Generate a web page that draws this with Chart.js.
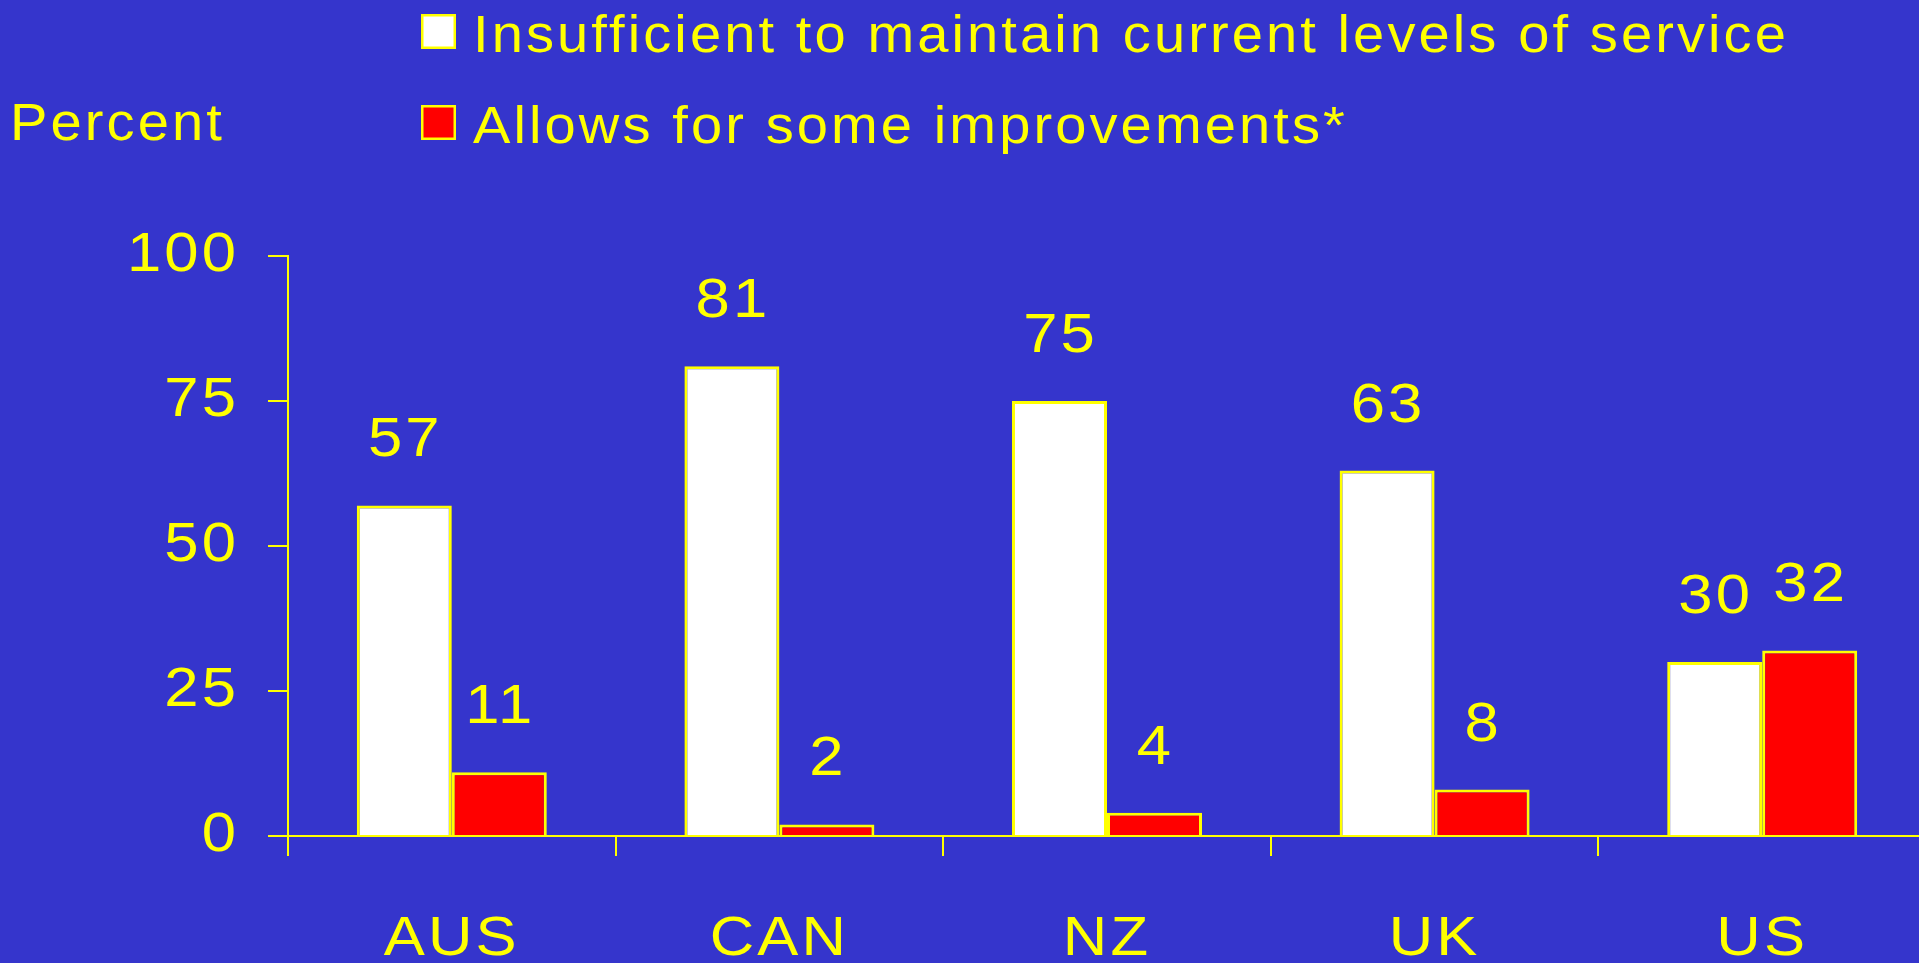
<!DOCTYPE html>
<html>
<head>
<meta charset="utf-8">
<script src="https://cdn.jsdelivr.net/npm/chart.js@4"></script>
<style>
  html, body { margin: 0; padding: 0; background: #3535CC; overflow: hidden; }
  canvas { display: block; }
</style>
</head>
<body>
<canvas id="myChart" width="1926" height="963"></canvas>
<script>
const categories = ['AUS', 'CAN', 'NZ', 'UK', 'US']
const insufficient = [57, 81, 75, 63, 30]
const improvements = [11, 2, 4, 8, 32]
const seriesNames = ['Insufficient to maintain current levels of service', 'Allows for some improvements*']
const yAxisTitle = 'Percent'
const yTicks = [0, 25, 50, 75, 100]

const yellow = '#FFFF00'
const fontFamily = '"Liberation Sans", Arial, Helvetica, sans-serif'
const stretch = 1.1   // the slide's lettering is wide, so widen every text a bit
const tracking = '2.8px'

// widen all text drawn on the canvas (tick labels included) around its anchor point
const wideText = {
  id: 'wideText',
  beforeInit(chart) {
    const c = chart.ctx
    const fill = c.fillText
    c.fillText = function (text, x, y, maxWidth) {
      this.save()
      this.letterSpacing = tracking
      this.translate(x, y)
      this.scale(stretch, 1)
      fill.call(this, text, 0, 0)
      this.restore()
    }
  }
}

// legend + "Percent" at the top left
const topText = {
  id: 'topText',
  afterDraw(chart) {
    const c = chart.ctx
    c.save()
    c.fillStyle = yellow
    c.textBaseline = 'alphabetic'
    c.textAlign = 'left'
    c.font = `51px ${fontFamily}`
    c.fillText(yAxisTitle, 10, 140)

    chart.data.datasets.forEach((ds, i) => {
      const top = 14 + i * 91
      c.fillStyle = ds.backgroundColor
      c.fillRect(421, top, 35, 35)
      c.strokeStyle = yellow
      c.lineWidth = 2.5
      c.strokeRect(422.25, top + 1.25, 32.5, 32.5)
      c.fillStyle = yellow
      c.fillText(ds.label, 473, top + 38)
    })
    c.restore()
  }
}

// value above each bar
const valueLabels = {
  id: 'valueLabels',
  afterDatasetsDraw(chart) {
    const c = chart.ctx
    c.save()
    c.fillStyle = yellow
    c.font = `56px ${fontFamily}`
    c.textAlign = 'center'
    c.textBaseline = 'alphabetic'
    chart.data.datasets.forEach((ds, i) => {
      chart.getDatasetMeta(i).data.forEach((bar, j) => {
        c.fillText(String(ds.data[j]), bar.x + 1, bar.y - 49)
      })
    })
    c.restore()
  }
}

const ctx = document.getElementById('myChart')

window.chart = new Chart(ctx, {
  type: 'bar',
  data: {
    labels: categories,
    datasets: [{
      label: seriesNames[0],
      data: insufficient,
      backgroundColor: '#FFFFFF',
      borderColor: yellow,
      borderWidth: 3,
      borderSkipped: 'bottom'
    }, {
      label: seriesNames[1],
      data: improvements,
      backgroundColor: '#FF0000',
      borderColor: yellow,
      borderWidth: 3,
      borderSkipped: 'bottom'
    }]
  },
  options: {
    responsive: false,
    animation: false,
    devicePixelRatio: 1,
    layout: { padding: { top: 256, left: 0, right: 0, bottom: 0 } },
    datasets: {
      bar: { categoryPercentage: 0.58, barPercentage: 1.0 }
    },
    plugins: {
      legend: { display: false },
      tooltip: { enabled: false }
    },
    scales: {
      x: {
        grid: {
          display: true,
          offset: true,
          drawOnChartArea: false,
          drawTicks: true,
          tickLength: 20,
          color: yellow,
          lineWidth: 2
        },
        border: { display: true, color: yellow, width: 2 },
        ticks: {
          color: yellow,
          font: { family: fontFamily, size: 56 },
          padding: 50,
          maxRotation: 0
        },
        afterFit(scale) { scale.height = 127 }
      },
      y: {
        min: 0,
        max: 100,
        afterBuildTicks(scale) { scale.ticks = yTicks.map(v => ({ value: v })) },
        grid: {
          display: true,
          drawOnChartArea: false,
          drawTicks: true,
          tickLength: 20,
          color: yellow,
          lineWidth: 2
        },
        border: { display: true, color: yellow, width: 2 },
        ticks: {
          color: yellow,
          font: { family: fontFamily, size: 56 },
          padding: 29
        },
        afterFit(scale) { scale.width = 288 }
      }
    }
  },
  plugins: [wideText, topText, valueLabels]
})
</script>
</body>
</html>
